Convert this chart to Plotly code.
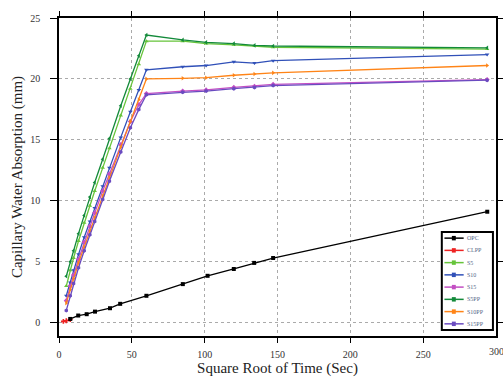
import plotly.graph_objects as go

x_common = [5, 7.7, 10, 13.4, 17.3, 21.2, 24.5, 30, 34.6, 42.4, 49, 54.8, 60, 84.9, 101, 120, 134.2, 147, 293.9]

opc_x = [7.7, 13.2, 19, 24.7, 35, 42, 60, 85, 102, 120, 134, 147, 294]
opc_y = [0.3, 0.58, 0.69, 0.9, 1.18, 1.54, 2.2, 3.16, 3.84, 4.4, 4.9, 5.3, 9.1]

clpp_x = [3, 5, 7.7]
clpp_y = [0.1, 0.15, 0.25]

s5_y = [3.0, 4.3, 5.3, 6.7, 8.2, 9.6, 10.8, 12.7, 14.3, 17.0, 19.2, 21.2, 23.1, 23.1, 22.9, 22.8, 22.7, 22.6, 22.45]
s10_y = [2.2, 3.3, 4.3, 5.6, 7.0, 8.3, 9.4, 11.2, 12.7, 15.2, 17.3, 19.1, 20.75, 21.0, 21.1, 21.4, 21.3, 21.5, 22.0]
s15_y = [1.8, 3.0, 3.9, 5.2, 6.6, 7.9, 9.0, 10.8, 12.2, 14.6, 16.5, 17.9, 18.8, 19.0, 19.1, 19.3, 19.4, 19.55, 19.95]
s5pp_y = [3.8, 5.0, 5.9, 7.3, 8.8, 10.3, 11.5, 13.4, 15.1, 17.8, 20.0, 21.9, 23.6, 23.2, 23.0, 22.9, 22.75, 22.7, 22.55]
s10pp_y = [1.6, 2.7, 3.6, 4.9, 6.2, 7.5, 8.6, 10.4, 11.9, 14.4, 16.5, 18.3, 20.0, 20.05, 20.1, 20.3, 20.4, 20.5, 21.1]
s15pp_y = [1.0, 2.2, 3.2, 4.5, 5.9, 7.2, 8.3, 10.1, 11.6, 14.0, 16.0, 17.5, 18.7, 18.9, 19.0, 19.2, 19.3, 19.45, 19.9]

x_ticks = [0, 50, 100, 150, 200, 250, 300]
y_ticks = [0, 5, 10, 15, 20, 25]

legend_names = ["OPC", "CLPP", "S5", "S10", "S15", "S5PP", "S10PP", "S15PP"]
colors = {"OPC": "#000000", "CLPP": "#ee2222", "S5": "#66c43a", "S10": "#3050b8",
          "S15": "#c34fc3", "S5PP": "#138a3a", "S10PP": "#ff8417", "S15PP": "#6a4bc0"}
symbols = {"OPC": "square", "CLPP": "cross", "S5": "triangle-up", "S10": "triangle-down",
           "S15": "diamond", "S5PP": "triangle-left", "S10PP": "triangle-right", "S15PP": "hexagon"}

series = [
    ("CLPP", clpp_x, clpp_y),
    ("OPC", opc_x, opc_y),
    ("S5", x_common, s5_y),
    ("S10", x_common, s10_y),
    ("S15", x_common, s15_y),
    ("S5PP", x_common, s5pp_y),
    ("S10PP", x_common, s10pp_y),
    ("S15PP", x_common, s15pp_y),
]

fig = go.Figure()
for name, xs, ys in series:
    fig.add_trace(go.Scatter(
        x=xs, y=ys, name=name, mode="lines+markers",
        line=dict(color=colors[name], width=1.3),
        marker=dict(color=colors[name], size=4, symbol=symbols[name]),
        showlegend=False,
    ))

font_fam = "Liberation Serif, Times New Roman, serif"

# compact boxed legend in the lower right corner (paper coordinates)
box_x0, box_x1, box_y0, box_y1 = 0.876, 0.993, 0.019, 0.327
row_h = (box_y1 - box_y0) / len(legend_names)
shapes = [dict(type="rect", xref="paper", yref="paper", x0=box_x0, x1=box_x1, y0=box_y0, y1=box_y1,
               line=dict(color="black", width=2), fillcolor="white", layer="above")]
annotations = []
for i, name in enumerate(legend_names):
    yc = box_y1 - row_h * (i + 0.5)
    shapes.append(dict(type="line", xref="paper", yref="paper", x0=box_x0 + 0.006, x1=box_x0 + 0.05,
                       y0=yc, y1=yc, line=dict(color=colors[name], width=1.5), layer="above"))
    shapes.append(dict(type="rect", xref="paper", yref="paper", x0=box_x0 + 0.023, x1=box_x0 + 0.032,
                       y0=yc - 0.007, y1=yc + 0.007, line=dict(color=colors[name], width=0),
                       fillcolor=colors[name], layer="above"))
    annotations.append(dict(text=name, xref="paper", yref="paper", x=box_x0 + 0.052, y=yc,
                            xanchor="left", yanchor="middle", showarrow=False,
                            font=dict(size=6, family=font_fam, color="#556688")))

# last x tick label (runs past the right edge of the figure, as in the source)
annotations.append(dict(text=str(x_ticks[-1]), xref="x", yref="paper", x=x_ticks[-1], y=0,
                        xanchor="center", yanchor="top", yshift=-8, showarrow=False,
                        font=dict(size=10, family=font_fam, color="#333")))

fig.update_layout(
    width=503, height=378,
    margin=dict(l=59, r=7, t=18, b=42),
    paper_bgcolor="white", plot_bgcolor="white",
    font=dict(family=font_fam, color="#222"),
    showlegend=False,
    shapes=shapes, annotations=annotations,
)
fig.update_xaxes(
    range=[0, 300], tickvals=x_ticks[:-1], automargin=False,
    showline=True, linecolor="black", linewidth=1.5, mirror="ticks",
    ticks="outside", ticklen=5, tickcolor="black", ticklabelstandoff=3,
    showgrid=True, gridcolor="#aaa", griddash="dot", gridwidth=1,
    zeroline=False,
    tickfont=dict(size=10, family=font_fam, color="#333"),
    title=dict(text="Square Root of Time (Sec)", font=dict(size=15, family=font_fam, color="#222"), standoff=2),
)
fig.update_yaxes(
    range=[-1.1, 25], tickvals=y_ticks, automargin=False,
    showline=True, linecolor="black", linewidth=1.5, mirror="ticks",
    ticks="outside", ticklen=7, tickcolor="black", ticklabelstandoff=8,
    showgrid=True, gridcolor="#aaa", griddash="dot", gridwidth=1,
    zeroline=False,
    tickfont=dict(size=10, family=font_fam, color="#333"),
    title=dict(text="Capillary Water Absorption (mm)", font=dict(size=15, family=font_fam, color="#222"), standoff=4),
)

fig.write_html("out.html")
